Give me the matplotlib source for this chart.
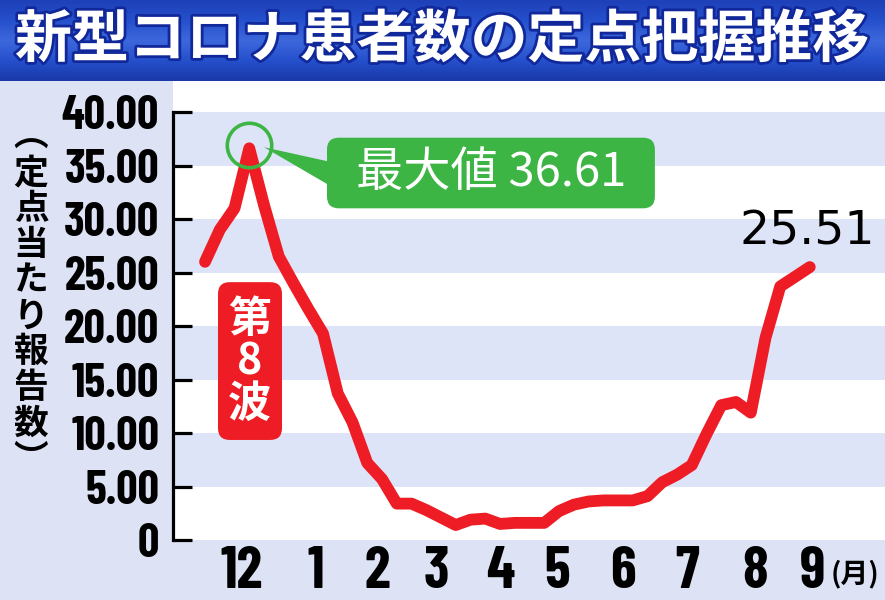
import matplotlib
matplotlib.use("Agg")
import matplotlib.pyplot as plt
import numpy as np
from matplotlib.colors import LinearSegmentedColormap
from matplotlib.patches import Polygon, FancyBboxPatch
import matplotlib.patheffects as pe

# weekly values (late Nov .. early Sep)
weeks = list(range(42))
values = [26.0, 29.0, 31.0, 36.61, 31.3, 26.5, 24.0, 21.6, 19.3, 13.7,
          11.0, 7.2, 5.7, 3.4, 3.4, 2.8, 2.1, 1.4, 1.9, 2.0,
          1.5, 1.6, 1.6, 1.6, 2.7, 3.3, 3.6, 3.7, 3.7, 3.7,
          4.1, 5.4, 6.1, 7.0, 9.9, 12.6, 12.9, 11.9, 18.9, 23.7,
          24.6, 25.51]
month_pos = [2.5, 7.5, 11.65, 15.7, 20.0, 23.9, 28.3, 32.7, 37.3, 41.2]
month_labels = ['12', '1', '2', '3', '4', '5', '6', '7', '8', '9']
y_ticks = [0, 5, 10, 15, 20, 25, 30, 35, 40]

title = '新型コロナ患者数の定点把握推移'
ylabel = '︵定点当たり報告数︶'
wave_label = '第8波'

num_font = ['Barlow Condensed', 'Roboto Condensed', 'DejaVu Sans']
jp = ['Noto Sans CJK JP', 'DejaVu Sans']

bg = '#dde3f5'
stripe = '#dde4f8'
red = '#ee1d25'
green = '#3cb544'

fig = plt.figure(figsize=(8.85, 6), dpi=100, facecolor=bg)

# title bar
ax_t = fig.add_axes([0, 1 - 81 / 600, 1, 81 / 600])
cmap = LinearSegmentedColormap.from_list('bar', ['#1e40b8', '#2550cc', '#3d68dc', '#2550cc', '#1a38a8'])
ax_t.imshow(np.linspace(0, 1, 100).reshape(-1, 1), aspect='auto', cmap=cmap, extent=[0, 1, 0, 1])
ax_t.set_axis_off()
fig.text(0.5, 1 - 40 / 600, title, ha='center', va='center', fontsize=41, color='white',
         weight='bold', family=jp,
         path_effects=[pe.withStroke(linewidth=4, foreground='#10289a')])

# main chart
ax = fig.add_axes([173 / 885, 60 / 600, 712 / 885, 459 / 600])
ax.set_facecolor('white')
for lo in range(5, 40, 10):
    ax.axhspan(lo, lo + 5, color=stripe, zorder=0, lw=0)

ax.plot(weeks, values, color=red, lw=8.5, solid_capstyle='round',
        solid_joinstyle='round', zorder=3)

ax.set_xlim(-2.17, 46.1)
ax.set_ylim(0, 42.9)
for s in ['top', 'right', 'bottom']:
    ax.spines[s].set_visible(False)
ax.spines['left'].set_linewidth(2.3)
ax.spines['left'].set_bounds(0, 40)

ax.set_yticks(y_ticks)
ax.set_yticklabels(['0'] + ['%.2f' % v for v in y_ticks[1:]],
                   fontsize=34, weight='bold', family=num_font)
ax.tick_params(axis='y', direction='in', length=14, width=2.3, pad=10)
ax.set_xticks(month_pos)
ax.set_xticklabels(month_labels, fontsize=42, weight='bold', family=num_font)
ax.tick_params(axis='x', length=0, pad=4)

fig.text(855 / 885, 1 - 574 / 600, '(月)', ha='center', va='center', fontsize=20,
         weight='bold', family=jp)

fig.text(31 / 885, 1 - 298 / 600, '\n'.join(ylabel), ha='center', va='center',
         fontsize=25, weight='bold', family=jp, linespacing=1.03)

# peak annotation
ipk = int(np.argmax(values))
pk = values[ipk]
ax.plot(weeks[ipk], pk + 0.3, 'o', ms=32, mfc='none', mec=green, mew=2.6, zorder=4)
ax.add_patch(Polygon([(weeks[ipk] + 1.0, pk + 0.1), (8.6, pk - 1.3),
                      (8.6, pk - 3.6)], closed=True, fc=green, ec='none', zorder=4))
asp = 14.75 / 10.7
ax.add_patch(FancyBboxPatch((8.27, 31.0), 30.5 - 8.27, 37.6 - 31.0,
                            boxstyle='round,pad=0,rounding_size=0.8', mutation_aspect=asp,
                            fc=green, ec='none', zorder=4))
ax.text(19.4, 34.3, '最大値 %.2f' % pk, ha='center', va='center', fontsize=34,
        color='white', family=jp, zorder=5)

# wave label
ax.add_patch(FancyBboxPatch((0.88, 9.35), 5.22 - 0.88, 24.1 - 9.35,
                            boxstyle='round,pad=0,rounding_size=0.8', mutation_aspect=asp,
                            fc=red, ec='none', zorder=4))
ax.text(weeks[ipk], 16.7, '\n'.join(wave_label), ha='center', va='center', fontsize=31,
        color='white', weight='bold', family=jp, linespacing=0.95, zorder=5)

# last value
ax.text(45.4, 27.6, '%.2f' % values[-1], ha='right', va='baseline', fontsize=34,
        color='black', family='DejaVu Sans', zorder=5)

fig.savefig('out.png', dpi=100, facecolor=bg)
